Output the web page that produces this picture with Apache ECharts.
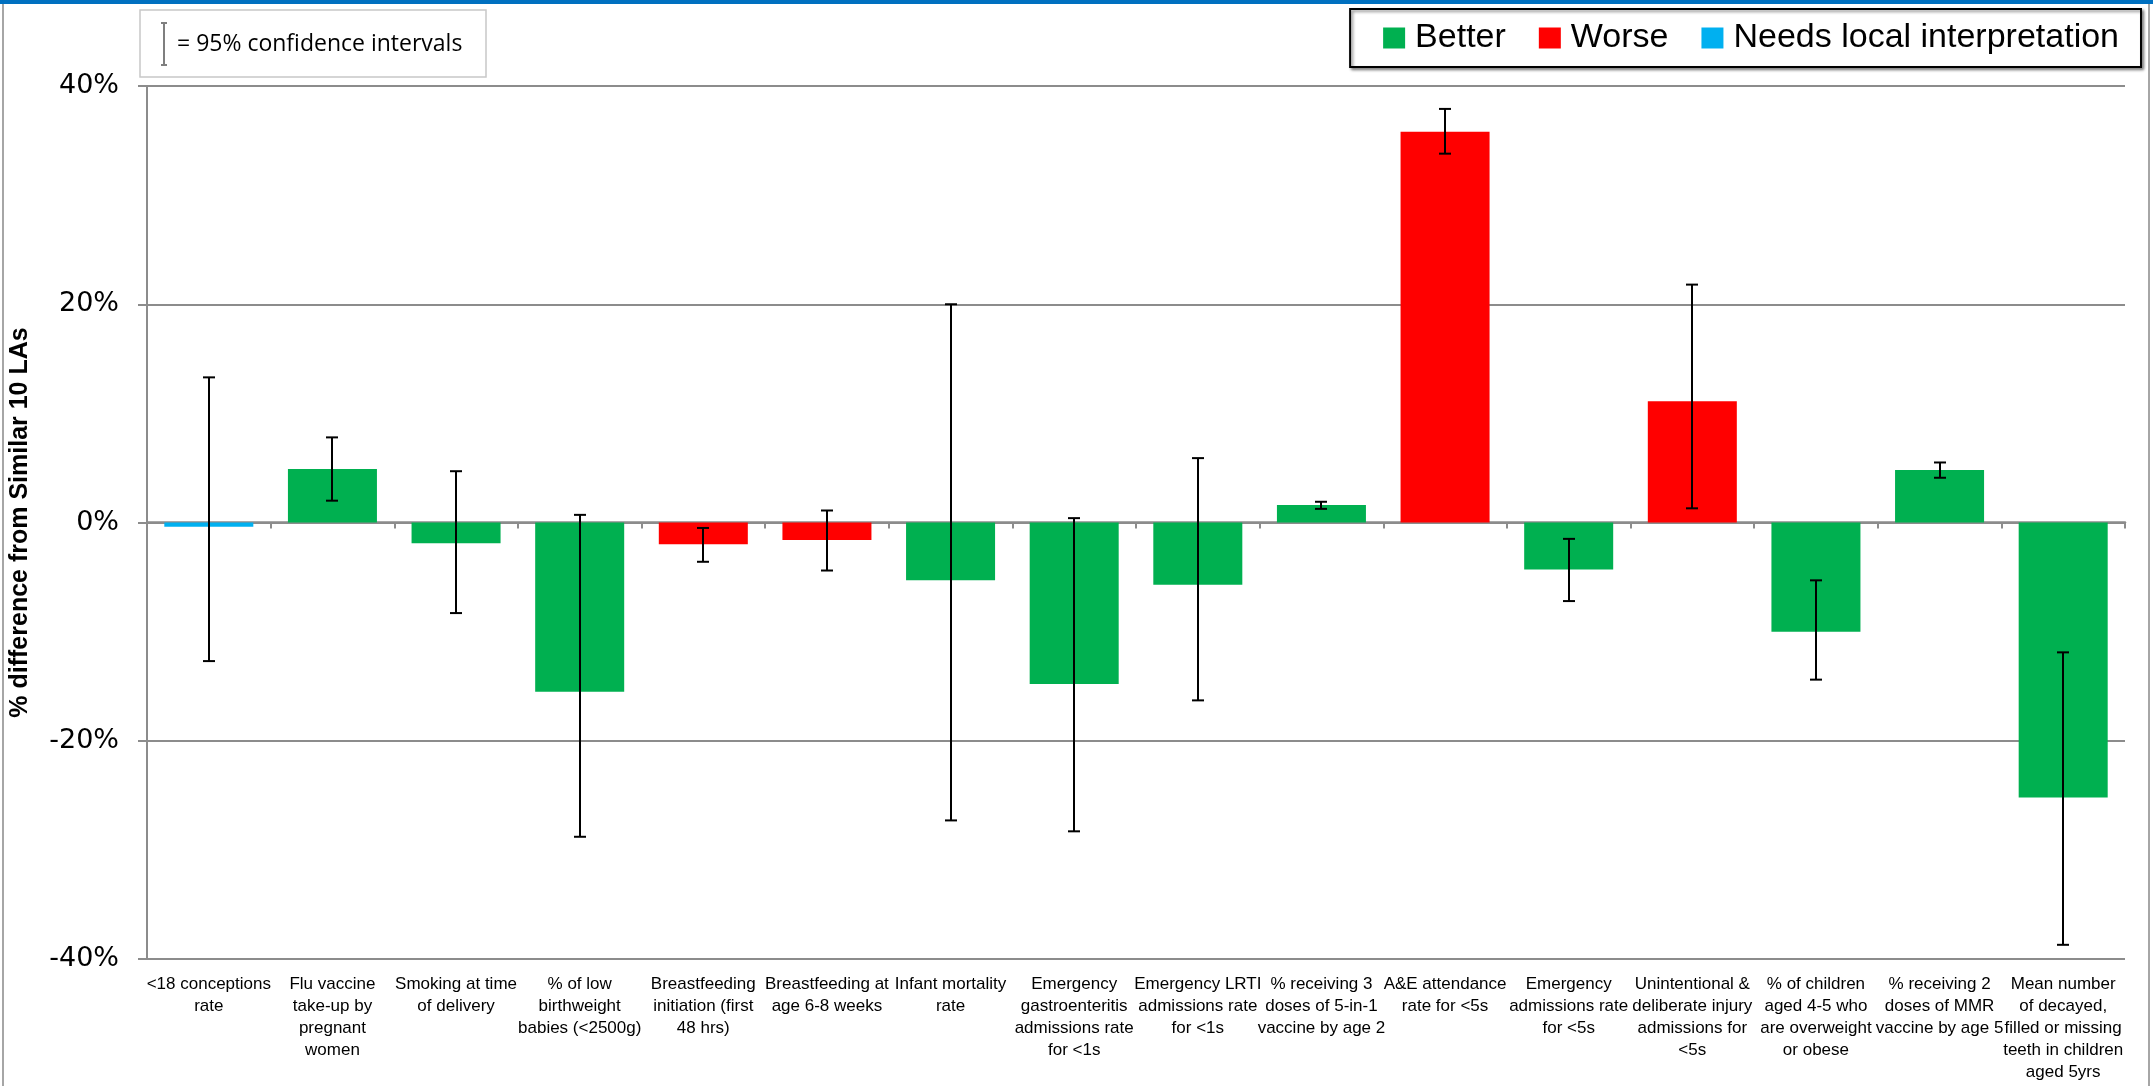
<!DOCTYPE html>
<html>
<head>
<meta charset="utf-8">
<title>% difference from Similar 10 LAs</title>
<script src="https://cdn.jsdelivr.net/npm/echarts@6/dist/echarts.min.js"></script>
<style>
  html, body { margin: 0; padding: 0; background: #fff; }
  #main { width: 2153px; height: 1086px; }
</style>
</head>
<body>
<div id="main"></div>
<script>
// indicators along the x axis
const categories = [
  '<18 conceptions\nrate',
  'Flu vaccine\ntake-up by\npregnant\nwomen',
  'Smoking at time\nof delivery',
  '% of low\nbirthweight\nbabies (<2500g)',
  'Breastfeeding\ninitiation (first\n48 hrs)',
  'Breastfeeding at\nage 6-8 weeks',
  'Infant mortality\nrate',
  'Emergency\ngastroenteritis\nadmissions rate\nfor <1s',
  'Emergency LRTI\nadmissions rate\nfor <1s',
  '% receiving 3\ndoses of 5-in-1\nvaccine by age 2',
  'A&E attendance\nrate for <5s',
  'Emergency\nadmissions rate\nfor <5s',
  'Unintentional &\ndeliberate injury\nadmissions for\n<5s',
  '% of children\naged 4-5 who\nare overweight\nor obese',
  '% receiving 2\ndoses of MMR\nvaccine by age 5',
  'Mean number\nof decayed,\nfilled or missing\nteeth in children\naged 5yrs'
];

// 'better' | 'worse' | 'local'
const status = ['local', 'better', 'better', 'better', 'worse', 'worse', 'better', 'better',
                'better', 'better', 'worse', 'better', 'worse', 'better', 'better', 'better'];

// % difference from similar 10 LAs
const values = [-0.4, 4.9, -1.9, -15.5, -2.0, -1.6, -5.3, -14.8, -5.7, 1.6, 35.8, -4.3, 11.1, -10.0, 4.8, -25.2];

// 95% confidence interval ends
const ciLow  = [-12.7, 2.0, -8.3, -28.8, -3.6, -4.4, -27.3, -28.3, -16.3, 1.25, 33.8, -7.2, 1.3, -14.4, 4.1, -38.7];
const ciHigh = [13.3, 7.8, 4.7, 0.7, -0.5, 1.1, 20.0, 0.4, 5.9, 1.9, 37.9, -1.5, 21.8, -5.3, 5.5, -11.9];

const yTicks = [-40, -20, 0, 20, 40];

const legendNames = { better: 'Better', worse: 'Worse', local: 'Needs local interpretation' };
const colors = { better: '#00B050', worse: '#FF0000', local: '#00B0F0' };

function seriesFor(key) {
  return {
    name: legendNames[key],
    type: 'bar',
    stack: 'all',
    barCategoryGap: '28%',
    itemStyle: { color: colors[key] },
    data: values.map((v, i) => status[i] === key ? v : '-'),
    z: 2
  };
}

const ciData = values.map((v, i) => [i, ciLow[i], ciHigh[i]]);

const chart = echarts.init(document.getElementById('main'));

const option = {
  animation: false,
  backgroundColor: '#fff',
  grid: { left: 138, right: 28, top: 86, bottom: 127 },
  legend: {
    data: ['Better', 'Worse', 'Needs local interpretation'],
    right: 12,
    top: 9,
    padding: [12, 22, 12, 33],
    itemGap: 33,
    itemWidth: 22,
    itemHeight: 21,
    icon: 'rect',
    borderColor: '#000',
    borderWidth: 2,
    backgroundColor: '#fff',
    shadowColor: 'rgba(0,0,0,0.45)',
    shadowBlur: 3,
    shadowOffsetX: 2,
    shadowOffsetY: 2,
    textStyle: {
      fontFamily: 'Liberation Sans, Arial, sans-serif',
      fontSize: 34,
      color: '#000',
      padding: [0, 0, 0, 5]
    }
  },
  xAxis: [
    {
      type: 'category',
      data: categories,
      axisLine: { onZero: true, lineStyle: { color: '#8c8c8c', width: 2.5 } },
      axisTick: { show: true, length: 6, lineStyle: { color: '#8c8c8c', width: 2 } },
      axisLabel: { show: false },
      splitLine: { show: false }
    },
    {
      type: 'category',
      data: categories,
      position: 'bottom',
      axisLine: { show: false, onZero: false },
      axisTick: { show: false },
      axisLabel: {
        interval: 0,
        margin: 14,
        fontFamily: 'Liberation Sans, Arial, sans-serif',
        fontSize: 17,
        lineHeight: 22,
        color: '#000',
        align: 'center'
      }
    }
  ],
  yAxis: {
    type: 'value',
    min: yTicks[0],
    max: yTicks[yTicks.length - 1],
    interval: 20,
    name: '% difference from Similar 10 LAs',
    nameLocation: 'middle',
    nameRotate: 90,
    nameGap: 114,
    nameTextStyle: {
      fontFamily: 'Liberation Sans, Arial, sans-serif',
      fontWeight: 'bold',
      fontSize: 25,
      color: '#000'
    },
    axisLine: { show: true, lineStyle: { color: '#8c8c8c', width: 2 } },
    axisTick: { show: true, length: 9, lineStyle: { color: '#8c8c8c', width: 2 } },
    axisLabel: {
      formatter: '{value}%',
      margin: 28,
      fontFamily: 'DejaVu Sans, sans-serif',
      fontSize: 27,
      color: '#000'
    },
    splitLine: { show: true, lineStyle: { color: '#8c8c8c', width: 2 } }
  },
  series: [
    seriesFor('better'),
    seriesFor('worse'),
    seriesFor('local'),
    {
      name: '95% CI',
      type: 'custom',
      data: ciData,
      z: 5,
      renderItem: function (params, api) {
        const lo = api.coord([api.value(0), api.value(1)]);
        const hi = api.coord([api.value(0), api.value(2)]);
        const x = Math.round(lo[0]);
        const cap = 6;
        const style = { stroke: '#000', lineWidth: 2 };
        return {
          type: 'group',
          children: [
            { type: 'line', shape: { x1: x, y1: hi[1], x2: x, y2: lo[1] }, style: style },
            { type: 'line', shape: { x1: x - cap, y1: hi[1], x2: x + cap, y2: hi[1] }, style: style },
            { type: 'line', shape: { x1: x - cap, y1: lo[1], x2: x + cap, y2: lo[1] }, style: style }
          ]
        };
      }
    }
  ],
  graphic: [
    // blue strip along the top and the chart area border
    { type: 'rect', left: 0, top: 0, shape: { width: 2153, height: 4 }, style: { fill: '#0070C0' } },
    { type: 'line', shape: { x1: 3, y1: 4, x2: 3, y2: 1086 }, style: { stroke: '#a6a6a6', lineWidth: 2 } },
    { type: 'line', shape: { x1: 2149, y1: 4, x2: 2149, y2: 1086 }, style: { stroke: '#a6a6a6', lineWidth: 2 } },
    // confidence interval key
    { type: 'rect', shape: { x: 140, y: 10, width: 346, height: 67 }, style: { fill: '#fff', stroke: '#c8c8c8', lineWidth: 1.5 }, z: 10 },
    { type: 'line', shape: { x1: 164, y1: 23, x2: 164, y2: 65 }, style: { stroke: '#7f7f7f', lineWidth: 2 }, z: 11 },
    { type: 'line', shape: { x1: 161, y1: 23, x2: 167, y2: 23 }, style: { stroke: '#7f7f7f', lineWidth: 2 }, z: 11 },
    { type: 'line', shape: { x1: 161, y1: 65, x2: 167, y2: 65 }, style: { stroke: '#7f7f7f', lineWidth: 2 }, z: 11 },
    {
      type: 'text', x: 177, y: 44, z: 11,
      style: {
        text: '= 95% confidence intervals',
        fontFamily: 'Open Sans, Noto Sans, sans-serif',
        fontSize: 23,
        fill: '#000',
        verticalAlign: 'middle'
      }
    }
  ]
};

chart.setOption(option);
</script>
</body>
</html>
